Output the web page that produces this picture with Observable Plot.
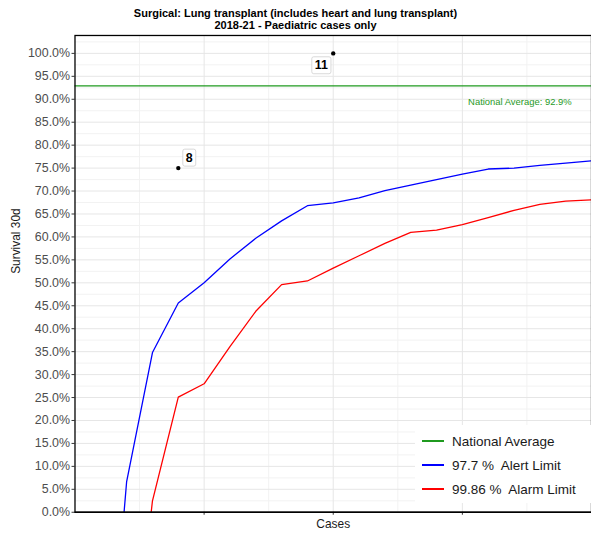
<!DOCTYPE html>
<html>
<head>
<meta charset="utf-8">
<script src="https://cdn.jsdelivr.net/npm/d3@7"></script>
<script src="https://cdn.jsdelivr.net/npm/@observablehq/plot@0.6"></script>
<style>
  html, body { margin: 0; padding: 0; background: #fff; overflow: hidden; }
  body { font-family: "Liberation Sans", Arial, sans-serif; width: 591px; height: 537px; position: relative; }
  #title { width: 591px; height: 33px; padding-top: 7px; box-sizing: border-box; text-align: center; font-weight: bold; font-size: 11px; line-height: 12px; color: #000; }
  #chart { position: absolute; left: 0; top: 33px; }
  #legend { position: absolute; left: 415px; top: 425px; width: 180px; height: 78px; background: #fff; }
  .item { position: absolute; left: 7px; height: 16px; display: flex; align-items: center; font-size: 13.5px; color: #1a1a1a; white-space: pre; }
  .swatch { flex: 0 0 22px; width: 22px; height: 1.6px; margin-right: 8px; }
</style>
</head>
<body>
<div id="title"><div>Surgical: Lung transplant (includes heart and lung transplant)</div><div>2018-21 - Paediatric cases only</div></div>
<div id="chart"></div>
<div id="legend"></div>
<script>
// ---- data ----
const alertX = [1.9, 2, 3, 4, 5, 6, 7, 8, 9, 10, 11, 12, 13, 14, 15, 16, 17, 18, 19, 20];
const alertY = [0, 6.7, 34.8, 45.6, 50.0, 55.2, 59.7, 63.5, 66.8, 67.4, 68.5, 70.1, 71.3, 72.5, 73.7, 74.8, 75.0, 75.6, 76.1, 76.6];
const alarmX = [2.95, 3, 4, 5, 6, 7, 8, 9, 10, 11, 12, 13, 14, 15, 16, 17, 18, 19, 20];
const alarmY = [0, 2.5, 25.1, 28.0, 36.1, 43.8, 49.6, 50.4, 53.2, 55.9, 58.6, 61.0, 61.5, 62.7, 64.2, 65.8, 67.1, 67.8, 68.1];
const nationalAverage = 92.9;
const pointX = [4, 10];
const pointY = [75, 100];
const pointLabel = ["8", "11"];
const labelDx = [11, -12];
const labelDy = [-10.5, 12];
const yTicks = [0, 5, 10, 15, 20, 25, 30, 35, 40, 45, 50, 55, 60, 65, 70, 75, 80, 85, 90, 95, 100];
const yMinor = [2.5, 7.5, 12.5, 17.5, 22.5, 27.5, 32.5, 37.5, 42.5, 47.5, 52.5, 57.5, 62.5, 67.5, 72.5, 77.5, 82.5, 87.5, 92.5, 97.5, 102.5];
const xTicks = [5, 10, 15];
const xMinor = [2.5, 7.5, 12.5, 17.5];
const legendItems = ["National Average", "97.7 %  Alert Limit", "99.86 %  Alarm Limit"];
const legendColors = ["#1f9a1f", "#0000ff", "#ff0000"];

const alert = alertX.map((x, i) => ({x, y: alertY[i]}));
const alarm = alarmX.map((x, i) => ({x, y: alarmY[i]}));
const pts = pointX.map((x, i) => ({x, y: pointY[i], label: pointLabel[i], dx: labelDx[i], dy: labelDy[i]}));

const chart = Plot.plot({
  width: 595,
  height: 504,
  marginTop: 2,
  marginBottom: 22,
  marginLeft: 75,
  marginRight: 0,
  style: {fontFamily: "Liberation Sans, Arial, sans-serif", background: "#fff"},
  x: {domain: [0, 20], axis: null},
  y: {domain: [0, 103.9], axis: null},
  marks: [
    Plot.ruleY(yMinor.filter(d => d < 103.9), {stroke: "#f2f2f2", strokeWidth: 1}),
    Plot.ruleX(xMinor, {stroke: "#f2f2f2", strokeWidth: 1}),
    Plot.ruleY(yTicks, {stroke: "#e6e6e6", strokeWidth: 1}),
    Plot.ruleX(xTicks, {stroke: "#e6e6e6", strokeWidth: 1}),
    Plot.ruleY([nationalAverage], {stroke: legendColors[0], strokeWidth: 1.3}),
    Plot.text([nationalAverage], {x: 20, y: d => d, text: d => `National Average: ${d}%`, dx: -20, dy: 16, textAnchor: "end", fill: legendColors[0], fontSize: 9.5}),
    Plot.line(alert, {x: "x", y: "y", stroke: legendColors[1], strokeWidth: 1.3}),
    Plot.line(alarm, {x: "x", y: "y", stroke: legendColors[2], strokeWidth: 1.3}),
    Plot.dot(pts, {x: "x", y: "y", r: 2.2, fill: "#000"}),
    ...pts.map(p => Plot.text([p], {x: "x", y: "y", text: "label", dx: p.dx, dy: p.dy, fontSize: 12.5, fontWeight: "bold", fill: "#000"})),
    Plot.axisY(yTicks, {tickFormat: d => d.toFixed(1) + "%", tickSize: 3, tickPadding: 2, fontSize: 12.5, color: "#4d4d4d", stroke: "#333", label: null}),
    Plot.axisX(xTicks, {tickFormat: () => "", tickSize: 3, stroke: "#333", label: null}),
    Plot.frame({stroke: "#000", strokeWidth: 1.3}),
    Plot.ruleY([0], {stroke: "#000", strokeWidth: 1.6}),
    Plot.text(["Survival 30d"], {frameAnchor: "left", rotate: -90, dx: -59, text: d => d, fontSize: 12, fill: "#1a1a1a"}),
    Plot.text(["Cases"], {frameAnchor: "bottom", lineAnchor: "middle", dy: 12, text: d => d, fontSize: 12, fill: "#1a1a1a"})
  ]
});
document.getElementById("chart").appendChild(chart);

// label boxes (ggrepel style) sized from rendered text
chart.querySelectorAll('g[aria-label="text"] text').forEach(t => {
  if (!pointLabel.includes(t.textContent)) return;
  const b = t.getBBox();
  const r = document.createElementNS("http://www.w3.org/2000/svg", "rect");
  const px = 3, py = 1.5;
  r.setAttribute("x", b.x - px);
  r.setAttribute("y", b.y - py);
  r.setAttribute("width", b.width + 2 * px);
  r.setAttribute("height", b.height + 2 * py);
  r.setAttribute("rx", 2);
  r.setAttribute("fill", "#fff");
  r.setAttribute("stroke", "#c8c8c8");
  r.setAttribute("stroke-width", 0.7);
  if (t.getAttribute("transform")) r.setAttribute("transform", t.getAttribute("transform"));
  t.parentNode.insertBefore(r, t);
});

// legend
const leg = document.getElementById("legend");
legendItems.forEach((label, i) => {
  const it = document.createElement("div");
  it.className = "item";
  it.style.top = (8 + i * 24) + "px";
  const sw = document.createElement("div");
  sw.className = "swatch";
  sw.style.background = legendColors[i];
  const tx = document.createElement("span");
  tx.textContent = label;
  it.appendChild(sw); it.appendChild(tx);
  leg.appendChild(it);
});
</script>
</body>
</html>
